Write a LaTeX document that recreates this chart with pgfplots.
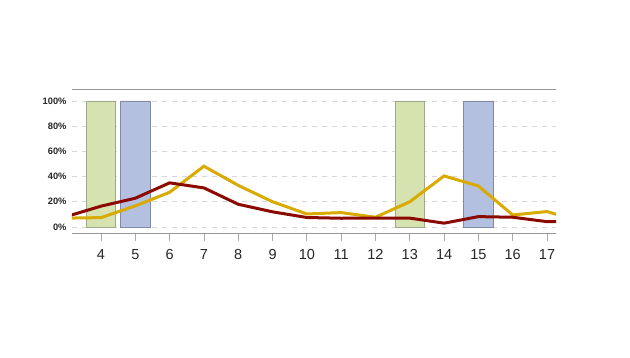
\documentclass[border=0pt]{standalone}
\usepackage{pgfplots}
\pgfplotsset{compat=1.18}
\usepackage{fontspec}
\setmainfont{Liberation Sans}
\definecolor{linered}{RGB}{139,10,0}
\definecolor{lineyel}{RGB}{217,170,0}
\definecolor{bargreen}{RGB}{214,226,176}
\definecolor{bargreenb}{RGB}{160,168,140}
\definecolor{barblue}{RGB}{180,192,224}
\definecolor{barblueb}{RGB}{130,138,168}
\definecolor{axgray}{RGB}{150,150,150}
\definecolor{gridgray}{RGB}{215,215,215}
\begin{document}
\begin{tikzpicture}[x=1pt,y=1pt]
\path[use as bounding box] (0,0) rectangle (630,358);
\begin{axis}[
  at={(72pt,125pt)}, anchor=south west,
  scale only axis, width=484pt, height=144pt,
  xmin=3.155, xmax=17.262, ymin=-4.8, ymax=109.5,
  axis x line*=bottom, axis y line*=left,
  x axis line style={draw=axgray, line width=0.8pt, -},
  y axis line style={draw=none},
  xtick={4,...,17},
  ytick={0,20,40,60,80,100},
  yticklabels={0\%,20\%,40\%,60\%,80\%,100\%},
  /pgf/number format/assume math mode=true,
  xticklabel style={font=\fontsize{14.5}{14.5}\selectfont, text=black!85, yshift=-5pt},
  yticklabel style={font=\bfseries\fontsize{9.3}{9.3}\selectfont, text=black!85, xshift=6pt},
  x tick style={draw=axgray!80, line width=0.8pt},
  major tick length=8pt,
  tick align=outside,
  y tick style={draw=none},
  ymajorgrids, grid style={draw=gridgray, dash pattern=on 5pt off 5pt, line width=0.8pt},
  clip=true,
]
\addplot[ybar, bar width=0.86, bar shift=0pt, fill=bargreen, draw=bargreenb, line width=0.6pt] coordinates {(4,100) (13,100)};
\addplot[ybar, bar width=0.86, bar shift=0pt, fill=barblue, draw=barblueb, line width=0.6pt] coordinates {(5,100) (15,100)};
\addplot[lineyel, line width=3pt, no marks] coordinates {
(3,7) (4,7.4) (5,16.7) (6,27.5) (7,48.2) (8,33) (9,20) (10,10.3) (11,11.4) (12,7.7) (13,20) (14,40.5) (15,32.5) (16,9.5) (17,12.2) (18,4)};
\addplot[linered, line width=3pt, no marks] coordinates {
(3,8.3) (4,16.5) (5,22.8) (6,35) (7,31) (8,18) (9,12) (10,7.5) (11,6.9) (12,7) (13,7) (14,3) (15,8.2) (16,7.7) (17,4.2) (18,4.2)};
\draw[axgray, line width=0.8pt] (rel axis cs:0,1) -- (rel axis cs:1,1);
\end{axis}
\end{tikzpicture}
\end{document}
